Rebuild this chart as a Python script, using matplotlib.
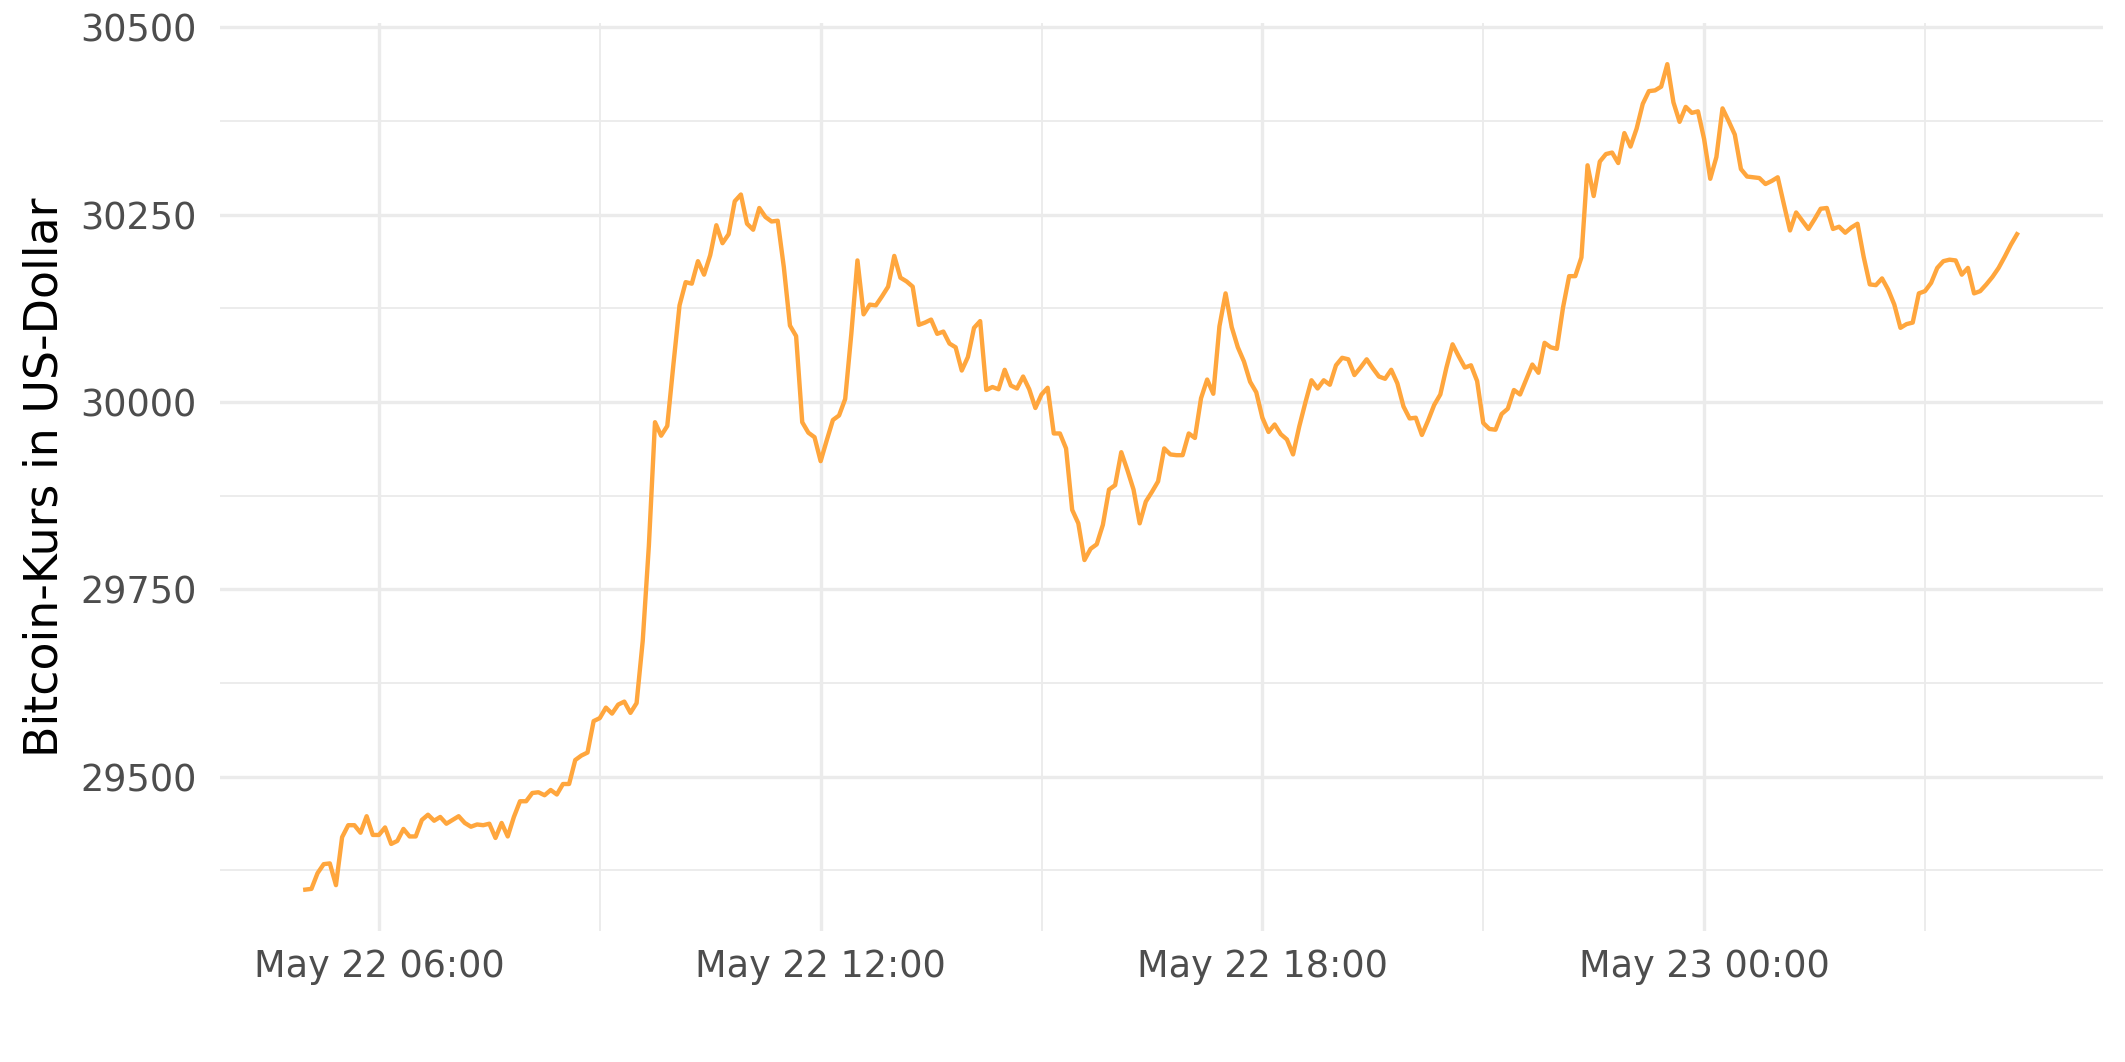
import matplotlib
matplotlib.use('Agg')
import matplotlib.pyplot as plt
import matplotlib.dates as mdates
from matplotlib.ticker import MultipleLocator, FuncFormatter
import numpy as np
import pandas as pd

# ---- data: Bitcoin price (USD), 5-minute steps starting May 22, 05:00 ----
start_time = '2022-05-22 05:00'
interval = '5min'

price_0500_0835 = [29349, 29350, 29371, 29383, 29384, 29355, 29419, 29435, 29435, 29425,
                   29447, 29422, 29422, 29432, 29410, 29414, 29430, 29420, 29420, 29442,
                   29449, 29441, 29446, 29437, 29442, 29447, 29438, 29433, 29436, 29435,
                   29437, 29418, 29438, 29420, 29446, 29467, 29467, 29478, 29479, 29475,
                   29482, 29476, 29490, 29490]
price_0840_1115 = [29522, 29528, 29532, 29574, 29578, 29592, 29584, 29596, 29600, 29585,
                   29598, 29681, 29808, 29973, 29955, 29968, 30050, 30129, 30160, 30158,
                   30188, 30170, 30196, 30236, 30212, 30224, 30268, 30277, 30238, 30230,
                   30259, 30247]
price_1120_1415 = [30241, 30242, 30180, 30102, 30088, 29973, 29959, 29953, 29921, 29949,
                   29976, 29982, 30004, 30091, 30189, 30117, 30130, 30129, 30141, 30154,
                   30195, 30166, 30161, 30154, 30103, 30106, 30110, 30091, 30094, 30078,
                   30073, 30042, 30060, 30099, 30108, 30016]
price_1420_1735 = [30020, 30017, 30043, 30022, 30018, 30034, 30017, 29992, 30010, 30019,
                   29958, 29958, 29938, 29856, 29838, 29789, 29804, 29810, 29836, 29883,
                   29889, 29933, 29909, 29883, 29838, 29867, 29880, 29894, 29938, 29930,
                   29929, 29929, 29958, 29952, 30005, 30030, 30011, 30101, 30145, 30100]
price_1740_2055 = [30073, 30054, 30027, 30013, 29979, 29960, 29970, 29957, 29950, 29930,
                   29967, 29999, 30029, 30018, 30029, 30023, 30049, 30059, 30057, 30036,
                   30046, 30057, 30045, 30034, 30031, 30043, 30025, 29994, 29978, 29979,
                   29956, 29975, 29996, 30010, 30046, 30077, 30061, 30046, 30049, 30028]
price_2100_0010 = [29972, 29964, 29963, 29984, 29991, 30016, 30010, 30030, 30050, 30039,
                   30079, 30073, 30071, 30126, 30168, 30168, 30193, 30316, 30275, 30321,
                   30331, 30333, 30319, 30359, 30341, 30365, 30398, 30415, 30416, 30421,
                   30451, 30400, 30374, 30394, 30386, 30388, 30351, 30298, 30327]
price_0015_0415 = [30392, 30375, 30357, 30311, 30301, 30300, 30299, 30291, 30295, 30300,
                   30264, 30229, 30253, 30242, 30231, 30244, 30258, 30259, 30231, 30234,
                   30226, 30233, 30238, 30194, 30157, 30156, 30165, 30150, 30130, 30099,
                   30104, 30106, 30145, 30148, 30159, 30179, 30188, 30190, 30189, 30170,
                   30179, 30145, 30148, 30157, 30167, 30179, 30194, 30210, 30224]

y_label = 'Bitcoin-Kurs in US-Dollar'
x_tick_format = '%b %d %H:%M'

prices = np.array(price_0500_0835 + price_0840_1115 + price_1120_1415 + price_1420_1735
                  + price_1740_2055 + price_2100_0010 + price_0015_0415, dtype=float)
times = pd.date_range(start_time, periods=len(prices), freq=interval)

# ---- figure ----
W, H, DPI = 2125, 1062, 300
fig = plt.figure(figsize=(W / DPI, H / DPI), dpi=DPI)
fig.patch.set_facecolor('white')
ax = fig.add_axes([219.7 / W, 1 - 930.9 / H, (2102.6 - 219.7) / W, (930.9 - 22.9) / H])
ax.set_facecolor('white')

ax.plot(times, prices, color='#FFA63D', lw=1.05, solid_joinstyle='round', zorder=3)

# limits with 5% expansion (ggplot style)
xn = mdates.date2num(times.to_pydatetime())
xr = xn.max() - xn.min()
ax.set_xlim(xn.min() - 0.05 * xr, xn.max() + 0.05 * xr)
yr = prices.max() - prices.min()
ax.set_ylim(prices.min() - 0.05 * yr, prices.max() + 0.05 * yr)

# ticks
ax.xaxis.set_major_locator(mdates.HourLocator(byhour=[0, 6, 12, 18]))
ax.xaxis.set_minor_locator(mdates.HourLocator(byhour=[3, 9, 15, 21]))
ax.xaxis.set_major_formatter(mdates.DateFormatter(x_tick_format))
ax.yaxis.set_major_locator(MultipleLocator(250))
ax.yaxis.set_minor_locator(MultipleLocator(125))
ax.yaxis.set_major_formatter(FuncFormatter(lambda v, p: f'{v:.0f}'))

ax.tick_params(which='both', length=0)
ax.tick_params(axis='x', which='major', pad=4.0, labelsize=8.8, labelcolor='#4D4D4D')
ax.tick_params(axis='y', which='major', pad=5.5, labelsize=8.8, labelcolor='#4D4D4D')

for s in ax.spines.values():
    s.set_visible(False)

ax.set_axisbelow(True)
ax.grid(which='major', color='#EBEBEB', lw=0.8)
ax.grid(which='minor', color='#EBEBEB', lw=0.45)

fig.text(45 / W, 1 - 477 / H, y_label, rotation=90, ha='center', va='center',
         fontsize=11, color='black')

fig.savefig('out.png', dpi=DPI, facecolor='white')
